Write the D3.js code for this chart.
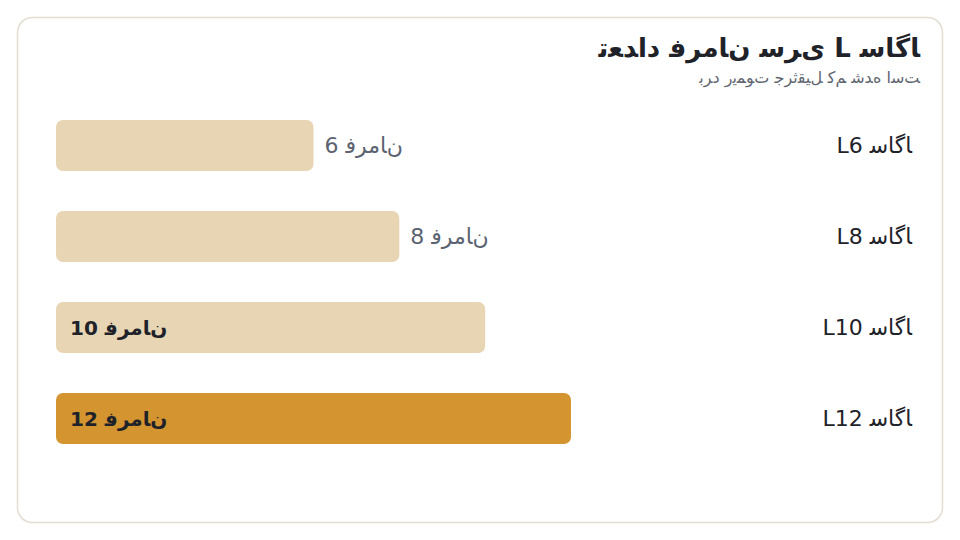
<!DOCTYPE html>
<html>
<head>
<meta charset="utf-8">
<script src="https://cdn.jsdelivr.net/npm/d3@7"></script>
<style>
  body { margin: 0; background: #ffffff; }
  svg { display: block; font-family: "DejaVu Sans", sans-serif; }
  /* glyphs are laid out left to right, in logical order */
  .ltr { direction: ltr; unicode-bidi: bidi-override; }
</style>
</head>
<body>
<div id="chart"></div>
<script>
/* DATA */
const categories = ["L6 ساگا", "L8 ساگا", "L10 ساگا", "L12 ساگا"];
const values = [6, 8, 10, 12];
const valueLabels = ["6 فرمان", "8 فرمان", "10 فرمان", "12 فرمان"];
const highlighted = ["L12 ساگا"];
const titleText = "تعداد فرمان سری L ساگا";
const subtitleText = "برد ریموت جرثقیل کم شده است";

/* CONTEXTUAL FORMS: [isolated, final, initial, medial] */
const forms = {
    "ا": [0xFE8D, 0xFE8E], "ب": [0xFE8F, 0xFE90, 0xFE91, 0xFE92],
    "ت": [0xFE95, 0xFE96, 0xFE97, 0xFE98], "ث": [0xFE99, 0xFE9A, 0xFE9B, 0xFE9C],
    "ج": [0xFE9D, 0xFE9E, 0xFE9F, 0xFEA0], "د": [0xFEA9, 0xFEAA],
    "ر": [0xFEAD, 0xFEAE], "س": [0xFEB1, 0xFEB2, 0xFEB3, 0xFEB4],
    "ش": [0xFEB5, 0xFEB6, 0xFEB7, 0xFEB8], "ع": [0xFEC9, 0xFECA, 0xFECB, 0xFECC],
    "ف": [0xFED1, 0xFED2, 0xFED3, 0xFED4], "ق": [0xFED5, 0xFED6, 0xFED7, 0xFED8],
    "ل": [0xFEDD, 0xFEDE, 0xFEDF, 0xFEE0], "م": [0xFEE1, 0xFEE2, 0xFEE3, 0xFEE4],
    "ن": [0xFEE5, 0xFEE6, 0xFEE7, 0xFEE8], "ه": [0xFEE9, 0xFEEA, 0xFEEB, 0xFEEC],
    "و": [0xFEED, 0xFEEE], "ک": [0xFB8E, 0xFB8F, 0xFB90, 0xFB91],
    "گ": [0xFB92, 0xFB93, 0xFB94, 0xFB95], "ی": [0xFBFC, 0xFBFD, 0xFBFE, 0xFBFF]
};

function shape(str) {
    const chars = Array.from(str);
    return chars.map((c, i) => {
        const f = forms[c];
        if (!f) return c;
        const prev = forms[chars[i - 1]];
        const next = forms[chars[i + 1]];
        const joinPrev = prev && prev.length === 4;
        const joinNext = f.length === 4 && !!next;
        let k = 0;
        if (joinPrev && joinNext) k = 3;
        else if (joinPrev) k = 1;
        else if (joinNext) k = 2;
        return String.fromCharCode(f[k]);
    }).join("");
}

/* CANVAS */
const width = 960;
const height = 540;

const svg = d3.select("#chart")
    .append("svg")
    .attr("width", width)
    .attr("height", height);

// card
svg.append("rect")
    .attr("x", 17.5)
    .attr("y", 17.5)
    .attr("width", 925)
    .attr("height", 505)
    .attr("rx", 15)
    .attr("fill", "#ffffff")
    .attr("stroke", "#e2ddd0")
    .attr("stroke-width", 1.5);

/* TITLES */
svg.append("text")
    .attr("class", "ltr")
    .attr("x", 920)
    .attr("y", 57)
    .attr("text-anchor", "end")
    .attr("font-size", 26)
    .attr("font-weight", "bold")
    .attr("fill", "#1f2329")
    .text(shape(titleText));

svg.append("text")
    .attr("class", "ltr")
    .attr("x", 920)
    .attr("y", 83)
    .attr("text-anchor", "end")
    .attr("font-size", 16)
    .attr("fill", "#5f6670")
    .text(shape(subtitleText));

/* SCALES */
const x = d3.scaleLinear()
    .domain([0, 12])
    .range([56, 571]);

const y = d3.scaleBand()
    .domain(categories)
    .range([100, 464])
    .paddingInner(0.44)
    .paddingOuter(0.22);

const rows = categories.map((c, i) => ({ cat: c, value: values[i], label: valueLabels[i] }));

/* BARS */
svg.selectAll(".bar")
    .data(rows)
    .enter()
    .append("rect")
    .attr("class", "bar")
    .attr("x", x(0))
    .attr("y", d => y(d.cat))
    .attr("width", d => x(d.value) - x(0))
    .attr("height", y.bandwidth())
    .attr("rx", 7)
    .attr("fill", d => highlighted.includes(d.cat) ? "#d4942f" : "#e8d5b3");

/* CATEGORY LABELS */
svg.selectAll(".cat")
    .data(rows)
    .enter()
    .append("text")
    .attr("class", "cat ltr")
    .attr("x", 912)
    .attr("y", d => y(d.cat) + y.bandwidth() / 2)
    .attr("dy", "0.35em")
    .attr("text-anchor", "end")
    .attr("font-size", 22)
    .attr("fill", "#1f2329")
    .text(d => shape(d.cat));

/* VALUE LABELS: inside for the long bars, outside for the short ones */
svg.selectAll(".val")
    .data(rows)
    .enter()
    .append("text")
    .attr("class", "val ltr")
    .attr("x", d => d.value >= 10 ? x(0) + 14 : x(d.value) + 11)
    .attr("y", d => y(d.cat) + y.bandwidth() / 2)
    .attr("dy", "0.35em")
    .attr("font-size", d => d.value >= 10 ? 20 : 22)
    .attr("font-weight", d => d.value >= 10 ? "bold" : "normal")
    .attr("fill", d => d.value >= 10 ? "#1f2329" : "#5b6370")
    .text(d => shape(d.label));
</script>
</body>
</html>
